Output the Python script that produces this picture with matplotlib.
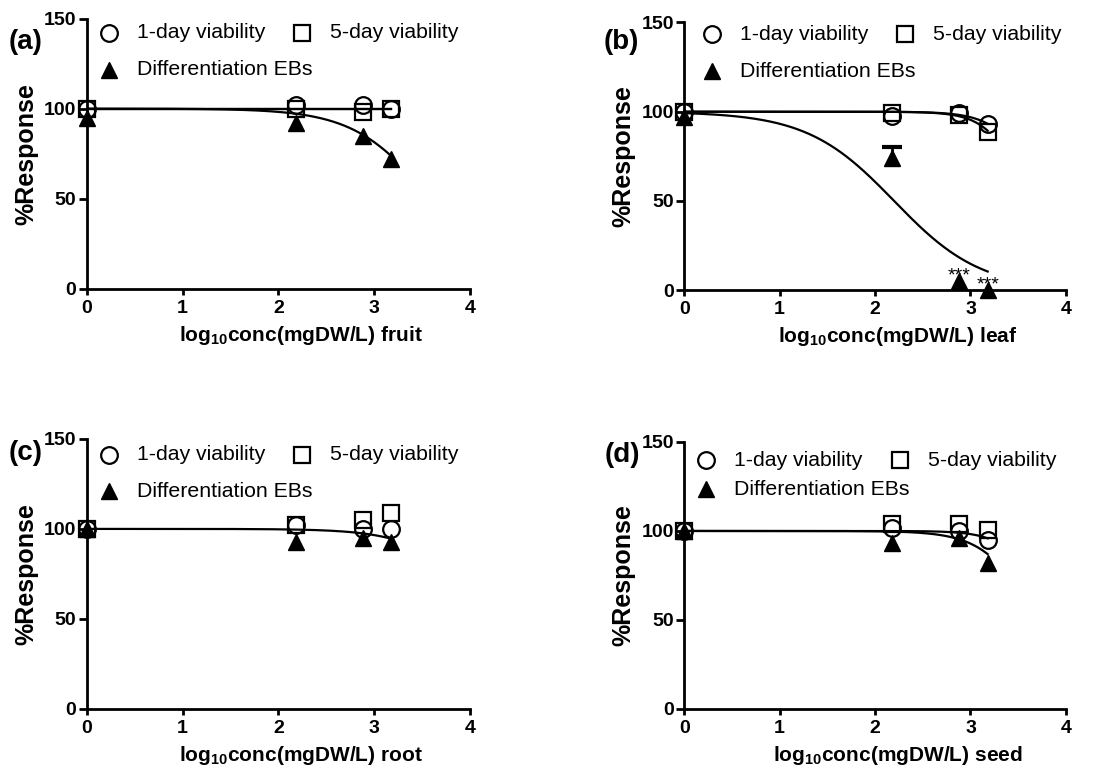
import numpy as np
import matplotlib
matplotlib.use('Agg')
import matplotlib.pyplot as plt

plt.rcParams['font.family'] = ['Liberation Sans', 'DejaVu Sans']
plt.rcParams['mathtext.fontset'] = 'custom'
plt.rcParams['mathtext.rm'] = 'Liberation Sans:bold'
plt.rcParams['mathtext.bf'] = 'Liberation Sans:bold'

# x positions: log10 of concentration (mgDW/L)
log_conc = [0, 2.18, 2.88, 3.18]

fruit_day1 = [100, 102, 102, 100]
fruit_day5 = [100, 100, 98, 100]
fruit_ebs = [95, 92, 85, 72]

leaf_day1 = [100, 97.5, 99, 93]
leaf_day5 = [100, 99.5, 98, 88.5]
leaf_ebs = [97, 74, 5, 0]
leaf_ebs_err = [0, 6.5, 0, 0]
leaf_sig = ['', '', '***', '***']

root_day1 = [100, 102, 100, 100]
root_day5 = [100, 102, 105, 109]
root_ebs = [100, 93, 95, 93]

seed_day1 = [100, 101.5, 100, 95]
seed_day5 = [100, 104, 104, 100.5]
seed_ebs = [100, 93.5, 96, 82]

# fitted dose-response curves (top, bottom, logEC50, hill) for day1, day5, EBs
fruit_fits = [(100, 100, 4, 1), (100, 100, 4, 1), (100, 0, 3.59, 1.09)]
leaf_fits = [(100, 0, 3.75, 2.0), (100, 0, 3.6, 2.2), (100, 0, 2.2, 0.95)]
root_fits = [None, None, (100, 0, 4.22, 1.19)]
seed_fits = [(100, 0, 3.82, 2.13), None, (100, 0, 3.69, 1.62)]

series_names = ['1-day viability', '5-day viability', 'Differentiation EBs']
labels = ['(a)', '(b)', '(c)', '(d)']
parts = ['fruit', 'leaf', 'root', 'seed']


def dose_response(x, top, bottom, logec50, hill):
    return bottom + (top - bottom) / (1 + 10 ** ((x - logec50) * hill))


fig = plt.figure(figsize=(11, 7.74), dpi=100)

positions = [[0.079, 0.627, 0.348, 0.349],
             [0.622, 0.625, 0.347, 0.346],
             [0.079, 0.084, 0.348, 0.349],
             [0.622, 0.084, 0.347, 0.345]]
label_xy = [(0.023, 0.946), (0.565, 0.946), (0.023, 0.415), (0.566, 0.412)]
# legend layout in axes fraction: circle x, square x, row1 y, row2 y
legend_pos = [(0.057, 0.562, 0.947, 0.811),
              (0.073, 0.578, 0.956, 0.817),
              (0.057, 0.563, 0.942, 0.806),
              (0.056, 0.565, 0.932, 0.822)]

panels = [(fruit_day1, fruit_day5, fruit_ebs, None, fruit_fits),
          (leaf_day1, leaf_day5, leaf_ebs, leaf_ebs_err, leaf_fits),
          (root_day1, root_day5, root_ebs, None, root_fits),
          (seed_day1, seed_day5, seed_ebs, None, seed_fits)]

open_style = dict(mfc='none', mec='black', mew=1.6, clip_on=False)

for i, (day1, day5, ebs, err, fits) in enumerate(panels):
    ax = fig.add_axes(positions[i])
    xs = np.linspace(0, log_conc[-1], 300)
    for fit in fits:
        if fit is not None:
            ax.plot(xs, dose_response(xs, *fit), color='black', lw=1.6, zorder=2)

    ax.plot(log_conc, day1, 'o', ms=12, zorder=3, **open_style)
    ax.plot(log_conc, day5, 's', ms=11.5, zorder=3, **open_style)
    ax.plot(log_conc, ebs, '^', ms=12, color='black', clip_on=False, zorder=4)

    if err is not None:
        for x, y, e in zip(log_conc, ebs, err):
            if e > 0:
                ax.vlines(x, y, y + e, color='black', lw=2, zorder=4)
                ax.plot(x, y + e, marker='_', ms=14, mew=3, color='black', zorder=4)
        for x, y, s in zip(log_conc, ebs, leaf_sig):
            if s:
                ax.annotate(s, (x, y), xytext=(0, 0.5), textcoords='offset points',
                            ha='center', va='baseline', fontsize=14)

    ax.set_xlim(0, 4)
    ax.set_ylim(0, 150)
    ax.set_xticks([0, 1, 2, 3, 4])
    ax.set_yticks([0, 50, 100, 150])
    for s in ['top', 'right']:
        ax.spines[s].set_visible(False)
    for s in ['left', 'bottom']:
        ax.spines[s].set_linewidth(2)
    ax.tick_params(axis='x', direction='out', length=4.5, width=2, labelsize=14, pad=3.5)
    ax.tick_params(axis='y', direction='out', length=6, width=2, labelsize=14, pad=1.5)
    for t in ax.get_xticklabels() + ax.get_yticklabels():
        t.set_fontweight('bold')

    ax.set_ylabel('%Response', fontsize=18, fontweight='bold', labelpad=4)
    ax.set_xlabel(r'log$_{10}$conc(mgDW/L) ' + parts[i], fontsize=15,
                  fontweight='bold', x=0.56, labelpad=5)

    # legend drawn by hand to match the staggered two-column layout
    xc, xsq, y1, y2 = legend_pos[i]
    dx = 28 / (positions[i][2] * 1100)
    entries = [(xc, y1, 'o', series_names[0]),
               (xsq, y1, 's', series_names[1]),
               (xc, y2, '^', series_names[2])]
    for lx, ly, m, name in entries:
        if m == '^':
            ax.plot(lx, ly, m, ms=12, color='black', transform=ax.transAxes, clip_on=False)
        else:
            ax.plot(lx, ly, m, ms=12 if m == 'o' else 11.5, transform=ax.transAxes,
                    **open_style)
        ax.text(lx + dx, ly, name, transform=ax.transAxes, fontsize=15.3,
                va='center', ha='left')

    fig.text(label_xy[i][0], label_xy[i][1], labels[i], fontsize=20,
             fontweight='bold', ha='center', va='center')

fig.savefig('out.png', dpi=100)
